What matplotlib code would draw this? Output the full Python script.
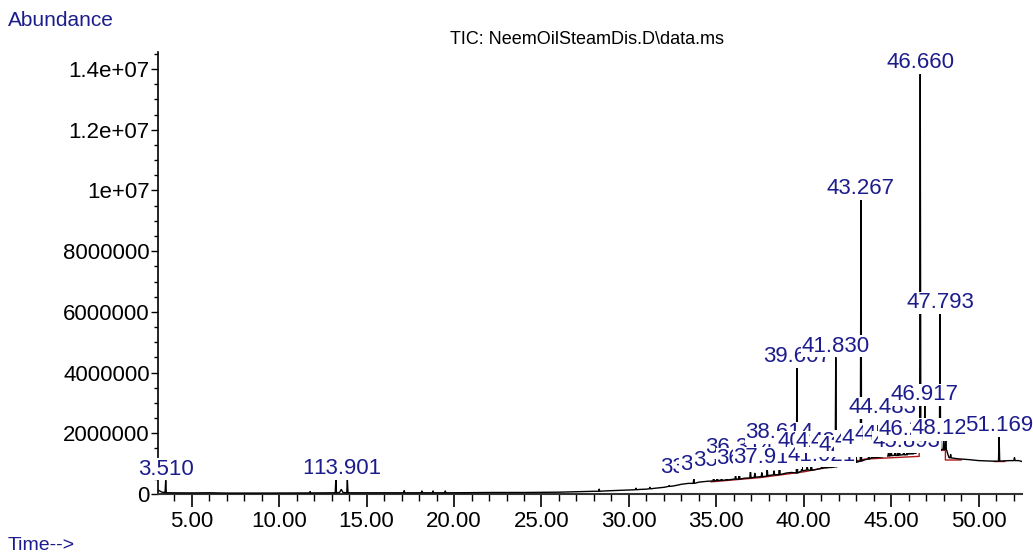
import numpy as np
import matplotlib
matplotlib.use("Agg")
import matplotlib.pyplot as plt
from matplotlib.ticker import FixedLocator, MultipleLocator

# ---------------- data ----------------
title_text = "TIC: NeemOilSteamDis.D\\data.ms"
y_label_text = "Abundance"
x_label_text = "Time-->"

# underlying trace (baseline) points: time (min), abundance
base_t = [3.07, 3.30, 3.45, 3.60, 5.00, 6.00, 7.00, 9.00, 11.50, 11.95, 13.10, 13.45, 13.55,
          13.65, 14.10, 17.00, 17.40, 18.00, 18.40, 19.20, 20.00, 22.00, 24.00, 26.00, 28.00,
          28.60, 29.00, 30.00, 30.60, 31.00, 31.50, 32.00, 32.60, 33.00, 33.40, 34.00, 34.50,
          35.20, 36.00, 36.60, 37.30, 38.00, 39.00, 39.30, 40.00, 40.80, 41.30, 42.00, 42.60,
          43.00, 43.50, 44.00, 44.70, 45.10, 45.60, 46.00, 46.40, 46.80, 47.20, 47.60, 48.30,
          48.80, 49.50, 50.00, 50.90, 51.40, 51.80, 52.30, 52.48]
base_v = [1.3e5, 6e4, 5e4, 4e4, 3.5e4, 4e4, 3e4, 3e4, 3.5e4, 3.5e4, 4e4, 5e4, 1.5e5,
          5e4, 4e4, 4e4, 4e4, 4e4, 4e4, 4e4, 4e4, 5e4, 5e4, 6e4, 9e4,
          1.0e5, 1.1e5, 1.3e5, 1.5e5, 1.6e5, 1.9e5, 2.2e5, 2.7e5, 3.2e5, 3.5e5, 3.9e5, 4.2e5,
          4.5e5, 4.9e5, 5.2e5, 5.6e5, 6.1e5, 6.9e5, 7.1e5, 7.7e5, 8.2e5, 8.6e5, 9.3e5, 9.9e5,
          1.05e6, 1.13e6, 1.2e6, 1.25e6, 1.27e6, 1.29e6, 1.32e6, 1.34e6, 1.44e6, 1.45e6, 1.46e6, 1.2e6,
          1.16e6, 1.13e6, 1.1e6, 1.08e6, 1.09e6, 1.1e6, 1.1e6, 1.07e6]

# small unlabelled spikes: time, apex, local base
spike_t = [11.77, 17.15, 18.16, 18.80, 19.50, 28.30, 30.40, 31.20, 32.30, 35.05, 35.30,
           36.10, 37.20, 37.60, 38.30, 39.90, 40.20, 41.20, 43.00, 43.90, 44.30, 44.60,
           45.00, 45.22, 45.47, 45.72, 45.97, 46.13, 46.33, 46.52, 46.77, 47.05, 47.35,
           47.50, 48.00, 48.40, 52.05]
spike_v = [8e4, 1.1e5, 1.0e5, 1.0e5, 1.0e5, 1.6e5, 1.9e5, 2.2e5, 2.8e5, 6.5e5, 6.0e5,
           6.2e5, 6.8e5, 7.0e5, 7.6e5, 9.2e5, 9.0e5, 1.0e6, 1.2e6, 1.4e6, 1.4e6, 1.42e6,
           1.45e6, 1.42e6, 1.46e6, 1.45e6, 1.5e6, 1.48e6, 1.5e6, 1.55e6, 1.6e6, 1.58e6, 1.6e6,
           1.58e6, 1.8e6, 1.3e6, 1.2e6]
spike_b = [3.5e4, 4e4, 4e4, 4e4, 4e4, 9e4, 1.4e5, 1.7e5, 2.5e5, 4.4e5, 4.5e5,
           4.9e5, 5.5e5, 5.7e5, 6.3e5, 7.6e5, 7.9e5, 8.6e5, 1.05e6, 1.19e6, 1.21e6, 1.24e6,
           1.26e6, 1.27e6, 1.28e6, 1.29e6, 1.32e6, 1.32e6, 1.34e6, 1.38e6, 1.44e6, 1.45e6, 1.45e6,
           1.46e6, 1.47e6, 1.19e6, 1.1e6]

# labelled peaks: label, retention time, apex abundance, local base
peak_lbl = ["3.510", "13.243", "13.901", "33.712", "34.853", "35.590", "36.314", "36.952",
            "37.912", "38.614", "39.607", "40.432", "41.021", "41.468", "41.830", "42.335",
            "42.802", "43.267", "43.725", "44.121", "44.483", "44.862", "45.381", "45.893",
            "46.243", "46.660", "46.917", "47.793", "48.124", "51.169"]
peak_t = [3.51, 13.24, 13.90, 33.71, 34.85, 35.59, 36.31, 36.95,
          37.91, 38.61, 39.61, 40.43, 41.02, 41.47, 41.83, 42.33,
          42.80, 43.27, 43.72, 44.12, 44.48, 44.86, 45.38, 45.89,
          46.24, 46.66, 46.92, 47.79, 48.12, 51.17]
peak_v = [4.5e5, 4.6e5, 4.6e5, 4.9e5, 5.9e5, 7.2e5, 1.15e6, 7.9e5,
          8.2e5, 1.65e6, 4.15e6, 1.35e6, 8.9e5, 1.35e6, 4.5e6, 1.35e6,
          1.22e6, 9.68e6, 1.38e6, 1.45e6, 2.47e6, 1.6e6, 1.58e6, 1.35e6,
          1.74e6, 1.383e7, 2.9e6, 5.93e6, 1.78e6, 1.88e6]
peak_b = [4e4, 4e4, 4e4, 3.5e5, 4.3e5, 4.6e5, 4.9e5, 5.3e5,
          5.9e5, 6.4e5, 6.9e5, 7.8e5, 8.4e5, 8.7e5, 8.9e5, 9.5e5,
          1.0e6, 1.08e6, 1.15e6, 1.2e6, 1.22e6, 1.25e6, 1.27e6, 1.29e6,
          1.32e6, 1.40e6, 1.44e6, 1.46e6, 1.47e6, 1.08e6]

# red integration baseline (nan = break)
red_t = [3.42, 3.62, np.nan, 13.12, 13.36, np.nan, 13.78, 14.02, np.nan,
         34.70, 37.50, 40.00, 42.20, 43.50, 46.60, 46.60, 48.10, 48.10, 49.00, np.nan,
         50.90, 51.50]
red_v = [3e4, 3e4, np.nan, 3e4, 3e4, np.nan, 3e4, 3e4, np.nan,
         4.0e5, 5.4e5, 7.3e5, 9.8e5, 1.15e6, 1.24e6, 1.41e6, 1.44e6, 1.12e6, 1.12e6, np.nan,
         1.07e6, 1.07e6]

x_major = [5, 10, 15, 20, 25, 30, 35, 40, 45, 50]
x_major_lbl = ["5.00", "10.00", "15.00", "20.00", "25.00", "30.00", "35.00", "40.00",
               "45.00", "50.00"]
y_major = [0, 2e6, 4e6, 6e6, 8e6, 1e7, 1.2e7, 1.4e7]
y_major_lbl = ["0", "2000000", "4000000", "6000000", "8000000", "1e+07", "1.2e+07", "1.4e+07"]

# ---------------- build trace ----------------
half_w = 0.035
pts = list(zip(base_t, base_v))
for t, v, b in zip(spike_t, spike_v, spike_b):
    pts += [(t - half_w, b), (t, v), (t + half_w, b)]
for t, v, b in zip(peak_t, peak_v, peak_b):
    pts += [(t - half_w, b), (t, v), (t + half_w, b)]
pts.sort(key=lambda p: p[0])
tr_t = np.array([p[0] for p in pts])
tr_v = np.array([p[1] for p in pts])

# ---------------- figure ----------------
navy = "#1c1c8c"
fam = ["Liberation Sans", "DejaVu Sans"]
plt.rcParams["font.family"] = fam

fig = plt.figure(figsize=(10.33, 5.55), dpi=100)
ax = fig.add_axes([158 / 1033, 61 / 555, 864 / 1033, 442 / 555])

ax.plot(red_t, red_v, color="#b01818", lw=1.0, zorder=2)
ax.plot(tr_t, tr_v, color="black", lw=1.0, zorder=3)

ax.set_xlim(3.07, 52.48)
ax.set_ylim(0, 1.456e7)

for lbl, t, v in zip(peak_lbl, peak_t, peak_v):
    ax.annotate(lbl, xy=(t, v), xytext=(0, 0.5), textcoords="offset points",
                ha="center", va="bottom", fontsize=16, color=navy,
                annotation_clip=False, zorder=5,
                bbox=dict(boxstyle="square,pad=0.02", fc="white", ec="none"))

for s in ["top", "right"]:
    ax.spines[s].set_visible(False)
ax.spines["left"].set_linewidth(1.2)
ax.spines["bottom"].set_linewidth(1.5)
ax.spines["bottom"].set_color("#333333")

ax.xaxis.set_major_locator(FixedLocator(x_major))
ax.set_xticklabels(x_major_lbl)
ax.xaxis.set_minor_locator(MultipleLocator(1))
ax.yaxis.set_major_locator(FixedLocator(y_major))
ax.set_yticklabels(y_major_lbl)
ax.yaxis.set_minor_locator(MultipleLocator(5e5))

ax.tick_params(axis="x", which="major", direction="out", length=9, width=1.2,
               labelsize=16, pad=3)
ax.tick_params(axis="x", which="minor", direction="out", length=5, width=1.0)
ax.tick_params(axis="y", which="major", direction="out", length=5, width=1.0,
               labelsize=16, pad=1)
ax.tick_params(axis="y", which="minor", direction="out", length=3, width=1.0)

fig.text(8 / 1033, 1 - 20 / 555, y_label_text, fontsize=15, color=navy,
         ha="left", va="center")
fig.text(587 / 1033, 1 - 40 / 555, title_text, fontsize=13, color="black",
         ha="center", va="center")
fig.text(8 / 1033, 1 - 545 / 555, x_label_text, fontsize=14, color=navy,
         ha="left", va="center")

fig.savefig("out.png", dpi=100)
